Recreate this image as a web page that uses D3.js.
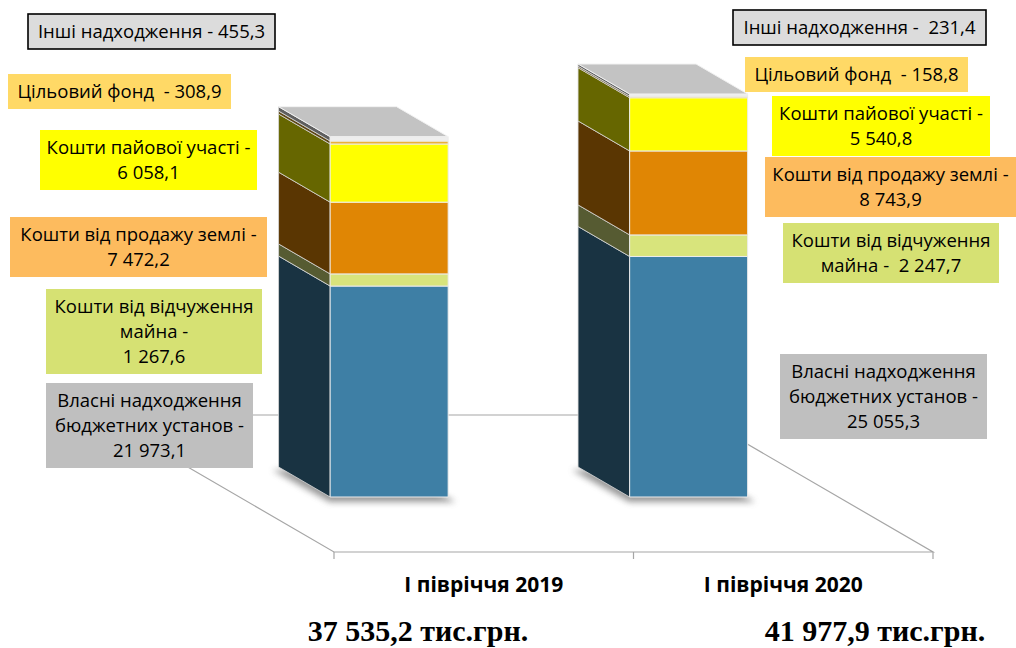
<!DOCTYPE html>
<html>

<head>
    <meta charset="UTF-8">
    <title>Надходження спеціального фонду</title>
    <script src="https://d3js.org/d3.v7.min.js"></script>
    <style>
        body { margin: 0; background: #fff; }
        text { white-space: pre; }
    </style>
</head>

<body>
    <div class="canvas"></div>

    <script>
        // data
        const categories = ["І півріччя 2019", "І півріччя 2020"];
        const seriesNames = [
            "Власні надходження бюджетних установ",
            "Кошти від відчуження майна",
            "Кошти від продажу землі",
            "Кошти пайової участі",
            "Цільовий фонд",
            "Інші надходження"
        ];
        const vlasni = [21973.1, 25055.3];
        const vidchuzhennia = [1267.6, 2247.7];
        const prodazhZemli = [7472.2, 8743.9];
        const paiovaUchast = [6058.1, 5540.8];
        const tsilovyiFond = [308.9, 158.8];
        const inshi = [455.3, 231.4];
        const seriesValues = [vlasni, vidchuzhennia, prodazhZemli, paiovaUchast, tsilovyiFond, inshi];

        // styles
        const frontColors = ["#3e7fa5", "#d8e47c", "#e08604", "#ffff00", "#eab236", "#eeeeee"];
        const boxColors = ["#bfbfbf", "#d6e173", "#fdbb5e", "#ffff00", "#ffd966", "#dcdcdc"];

        // dimensions
        const width = 1016;
        const height = 648;
        const floorY = 552;
        const floorLeft = 334;
        const floorRight = 933;
        const slant = 1.72;           // horizontal shift per px of depth
        const floorDepth = 137;
        const barFront = 55;
        const barBack = 85;

        const svg = d3.select(".canvas")
            .append("svg")
            .attr("width", width)
            .attr("height", height)
            .style("font-family", "'Open Sans', sans-serif");

        const defs = svg.append("defs");
        defs.append("filter")
            .attr("id", "shadow")
            .attr("x", "-50%").attr("y", "-50%")
            .attr("width", "200%").attr("height", "200%")
            .append("feGaussianBlur")
            .attr("stdDeviation", 3);

        // table for the stack
        const table = categories.map((c, i) => {
            const row = { category: c };
            seriesNames.forEach((s, j) => row[s] = seriesValues[j][i]);
            return row;
        });
        const stacked = d3.stack().keys(seriesNames)(table);
        const totals = categories.map((c, i) => d3.sum(seriesValues, v => v[i]));

        // scales
        const x = d3.scaleBand()
            .domain(categories)
            .range([floorLeft, floorRight])
            .paddingInner(0.606)
            .paddingOuter(0.303);

        const y = d3.scaleLinear()
            .domain([0, 50000])
            .range([0, 480]);

        const uk = d3.formatLocale({ decimal: ",", thousands: " ", grouping: [3], currency: ["", ""] });
        const fmt = uk.format(",.1f");

        // projection: front x, height in px, depth in px
        const P = (px, h, z) => [px - z * slant, floorY - h - z];
        const pts = arr => arr.map(p => p.join(",")).join(" ");

        // floor
        const floor = svg.append("g")
            .attr("stroke", "#a6a6a6")
            .attr("stroke-width", 1.2)
            .attr("fill", "none");
        const fl = [P(floorLeft, 0, 0), P(floorRight, 0, 0), P(floorRight, 0, floorDepth), P(floorLeft, 0, floorDepth)];
        floor.append("polygon").attr("points", pts(fl));

        const edges = d3.range(categories.length + 1).map(i => floorLeft + i * x.step());
        floor.selectAll("line.tick")
            .data(edges)
            .enter()
            .append("line")
            .attr("class", "tick")
            .attr("x1", d => d).attr("x2", d => d)
            .attr("y1", floorY).attr("y2", floorY + 7);

        // shadows
        svg.append("g")
            .selectAll("polygon")
            .data(categories)
            .enter()
            .append("polygon")
            .attr("points", c => {
                const x0 = x(c), x1 = x(c) + x.bandwidth();
                return pts([P(x0 - 4, -3, barFront - 2), P(x1 + 4, -3, barFront - 2), P(x1, -2, barBack), P(x0 - 6, -3, barBack)]);
            })
            .attr("fill", "#6d6d6d")
            .attr("opacity", 0.7)
            .attr("filter", "url(#shadow)");

        // bars
        const bars = svg.append("g");
        stacked.forEach((layer, j) => {
            const front = frontColors[j];
            const c = d3.rgb(front);
            const side = d3.rgb(c.r * 0.4, c.g * 0.4, c.b * 0.4).formatHex();

            layer.forEach(d => {
                const cat = d.data.category;
                const x0 = x(cat);
                const h0 = y(d[0]), h1 = y(d[1]);

                bars.append("polygon")
                    .attr("points", pts([P(x0, h0, barFront), P(x0, h1, barFront), P(x0, h1, barBack), P(x0, h0, barBack)]))
                    .attr("fill", side)
                    .attr("stroke", "#d9d9d9")
                    .attr("stroke-width", 0.8);

                bars.append("polygon")
                    .attr("points", pts([P(x0, h0, barFront), P(x0 + x.bandwidth(), h0, barFront), P(x0 + x.bandwidth(), h1, barFront), P(x0, h1, barFront)]))
                    .attr("fill", front)
                    .attr("stroke", "#ececec")
                    .attr("stroke-width", 1);
            });
        });

        // top faces
        bars.selectAll("polygon.top")
            .data(categories)
            .enter()
            .append("polygon")
            .attr("class", "top")
            .attr("points", (c, i) => {
                const h = y(totals[i]), x0 = x(c), x1 = x(c) + x.bandwidth();
                return pts([P(x0, h, barFront), P(x1, h, barFront), P(x1, h, barBack), P(x0, h, barBack)]);
            })
            .attr("fill", "#c3c3c3")
            .attr("stroke", "#f2f2f2")
            .attr("stroke-width", 1);

        // category labels
        svg.append("g")
            .selectAll("text")
            .data(categories)
            .enter()
            .append("text")
            .attr("x", c => x(c) + x.bandwidth() / 2)
            .attr("y", 592)
            .attr("text-anchor", "middle")
            .attr("font-weight", "bold")
            .attr("font-size", 21)
            .text(c => c);

        // totals under the chart
        const totalX = [418, 875];
        svg.append("g")
            .selectAll("text")
            .data(totals)
            .enter()
            .append("text")
            .attr("x", (d, i) => totalX[i])
            .attr("y", 641)
            .attr("text-anchor", "middle")
            .attr("font-family", "'Liberation Serif', 'Times New Roman', serif")
            .attr("font-weight", "bold")
            .attr("font-size", 30)
            .text(d => fmt(d) + " тис.грн.");

        // data label boxes: line templates and box layout per category
        const labelLines = [
            [v => ["Власні надходження", "бюджетних установ -", v], v => ["Власні надходження", "бюджетних установ -", v]],
            [v => ["Кошти від відчуження", "майна -", v], v => ["Кошти від відчуження", "майна -  " + v]],
            [v => ["Кошти від продажу землі -", v], v => ["Кошти від продажу землі -", v]],
            [v => ["Кошти пайової участі -", v], v => ["Кошти пайової участі -", v]],
            [v => ["Цільовий фонд  - " + v], v => ["Цільовий фонд  - " + v]],
            [v => ["Інші надходження - " + v], v => ["Інші надходження -  " + v]]
        ];
        const boxLayout = [
            [{ x: 46, y: 383, w: 207 }, { x: 780, y: 354, w: 207 }],
            [{ x: 46, y: 289, w: 216 }, { x: 783, y: 223, w: 216 }],
            [{ x: 10, y: 217, w: 257 }, { x: 765, y: 157, w: 251 }],
            [{ x: 40, y: 130, w: 217 }, { x: 772, y: 96, w: 218 }],
            [{ x: 8, y: 74, w: 223 }, { x: 745, y: 57, w: 223 }],
            [{ x: 28, y: 14, w: 247 }, { x: 733, y: 10, w: 253 }]
        ];

        const labels = [];
        seriesNames.forEach((s, j) => {
            categories.forEach((c, i) => {
                labels.push({
                    lines: labelLines[j][i](fmt(seriesValues[j][i])),
                    box: boxLayout[j][i],
                    fill: boxColors[j],
                    border: s === "Інші надходження"
                });
            });
        });

        const lineH = 25;
        const lab = svg.append("g")
            .selectAll("g")
            .data(labels)
            .enter()
            .append("g")
            .attr("transform", d => `translate(${d.box.x}, ${d.box.y})`);

        lab.append("rect")
            .attr("width", d => d.box.w)
            .attr("height", d => d.lines.length * lineH + 10)
            .attr("fill", d => d.fill)
            .attr("stroke", d => d.border ? "#000" : "none")
            .attr("stroke-width", 1.6);

        lab.append("text")
            .attr("text-anchor", "middle")
            .attr("font-size", 18.5)
            .attr("fill", "#000")
            .selectAll("tspan")
            .data(d => d.lines.map((l, k) => ({ l, k, w: d.box.w })))
            .enter()
            .append("tspan")
            .attr("x", d => d.w / 2)
            .attr("y", d => 24 + d.k * lineH)
            .text(d => d.l);
    </script>
</body>

</html>
